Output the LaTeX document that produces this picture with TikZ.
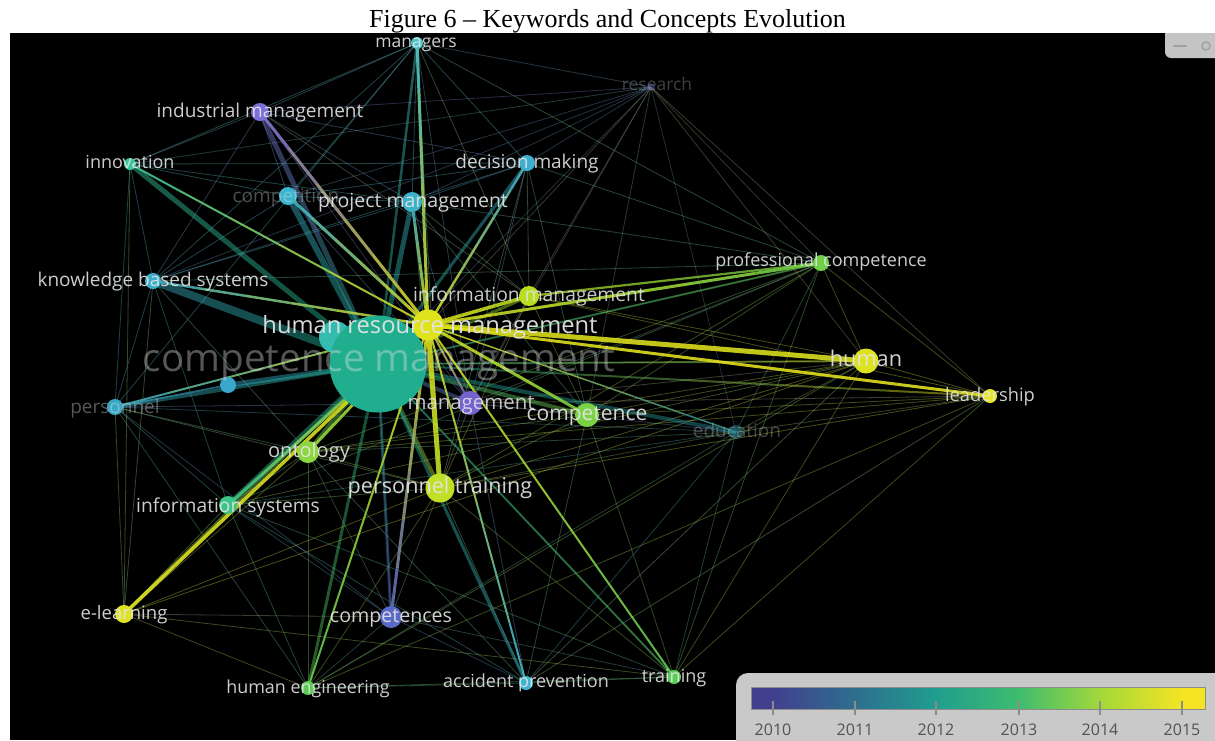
\documentclass[tikz,border=0pt]{standalone}
\usepackage{fontspec}
\setmainfont{Liberation Serif}
\newfontfamily\labfont{Open Sans}
\usetikzlibrary{calc}

% node colours
\definecolor{col-man}{HTML}{48C6CC}
\definecolor{col-res}{HTML}{5A4E96}
\definecolor{col-ind}{HTML}{7E6FD8}
\definecolor{col-inn}{HTML}{38C8A0}
\definecolor{col-dec}{HTML}{3EAFCF}
\definecolor{col-cpt}{HTML}{3AB5CF}
\definecolor{col-prj}{HTML}{3AB2C8}
\definecolor{col-kbs}{HTML}{3AAFC8}
\definecolor{col-pro}{HTML}{70D04A}
\definecolor{col-inf}{HTML}{B8DE22}
\definecolor{col-hrm}{HTML}{E0E21C}
\definecolor{col-cm1}{HTML}{21AE8E}
\definecolor{col-cm2}{HTML}{34BCB0}
\definecolor{col-hum}{HTML}{DCE21E}
\definecolor{col-lea}{HTML}{E8E620}
\definecolor{col-mgt}{HTML}{7462CF}
\definecolor{col-cmp}{HTML}{7AD245}
\definecolor{col-edu}{HTML}{2A8A9A}
\definecolor{col-per}{HTML}{38A8C4}
\definecolor{col-sml}{HTML}{3AA8CC}
\definecolor{col-ont}{HTML}{8CD640}
\definecolor{col-ptr}{HTML}{BFE026}
\definecolor{col-ins}{HTML}{3CC488}
\definecolor{col-elr}{HTML}{DDE222}
\definecolor{col-cps}{HTML}{5A68C8}
\definecolor{col-heg}{HTML}{5CCB55}
\definecolor{col-acc}{HTML}{3AB6D0}
\definecolor{col-tra}{HTML}{5CCC58}
% legend colours
\definecolor{v0}{HTML}{42408E}
\definecolor{v1}{HTML}{2D6F8E}
\definecolor{v2}{HTML}{1F9E8E}
\definecolor{v3}{HTML}{3FBC6E}
\definecolor{v4}{HTML}{A4D83A}
\definecolor{v5}{HTML}{F4E424}
\definecolor{legbg}{HTML}{C9C9C9}
\definecolor{lbc}{HTML}{E4E4E4}

% gradient edge: width, opacity, from, to
\newcommand\gedge[4]{%
  \foreach \k in {0,...,5}{%
    \pgfmathsetmacro\ta{\k/6}%
    \pgfmathsetmacro\tb{(\k+1)/6}%
    \pgfmathtruncatemacro\pc{100-(\k+0.5)*100/6}%
    \draw[line width=#1, draw opacity=#2, draw=col-#3!\pc!col-#4]
      ($(#3)!\ta!(#4)$) -- ($(#3)!\tb!(#4)$);%
  }}
% label: name, position, size, opacity, text
\newcommand\lbl[5]{%
  \node[lab, font=\labfont\fontsize{#3}{#3}\selectfont, text opacity=#4,
        anchor=base, yshift={-0.27*#3pt}] (#1) at (#2) {#5};}

\begin{document}
\begin{tikzpicture}[x=1pt,y=-1pt, line cap=butt,
  lab/.style={text=lbc, inner sep=0pt},
  thinedge/.style={line width=0.8pt, draw opacity=0.4},
  ball/.style={circle, inner sep=0pt, draw=none}]
\useasboundingbox (0,0) rectangle (1215,740);
\fill[white] (0,0) rectangle (1215,740);
\fill[black] (10,33) rectangle (1215,740);
\node[font=\fontsize{26}{30}\selectfont, anchor=base, inner sep=0pt] (title) at (607.5,27) {Figure 6 -- Keywords and Concepts Evolution};

% node positions
\coordinate (man) at (417,43);
\coordinate (res) at (651,87);
\coordinate (ind) at (260,112);
\coordinate (inn) at (130,164);
\coordinate (dec) at (527,163);
\coordinate (cpt) at (288,196);
\coordinate (prj) at (412,202);
\coordinate (kbs) at (153,281);
\coordinate (pro) at (821,263);
\coordinate (inf) at (529,296);
\coordinate (hrm) at (428,325);
\coordinate (cm1) at (378,364);
\coordinate (cm2) at (335,337);
\coordinate (hum) at (866,361);
\coordinate (lea) at (990,396);
\coordinate (mgt) at (470,403);
\coordinate (cmp) at (587,415);
\coordinate (edu) at (736,432);
\coordinate (per) at (115,407);
\coordinate (sml) at (228,385);
\coordinate (ont) at (308,452);
\coordinate (ptr) at (440,488);
\coordinate (ins) at (228,505);
\coordinate (elr) at (124,614);
\coordinate (cps) at (391,617);
\coordinate (heg) at (308,688);
\coordinate (acc) at (526,683);
\coordinate (tra) at (674,677);

% faint background edges
\foreach \a/\b in {res/ind,res/prj,res/dec,res/hrm,res/cm1,res/pro,res/hum,res/edu,res/cmp,res/man,res/lea,res/inf,res/kbs,res/cpt,res/mgt,res/inn,
  man/ind,man/inn,man/kbs,man/cpt,man/prj,man/dec,man/inf,man/pro,man/per,man/ptr,man/mgt,
  pro/hum,pro/lea,pro/cmp,pro/edu,pro/cm1,pro/dec,pro/prj,pro/ptr,pro/tra,pro/ont,pro/ins,pro/mgt,pro/kbs,
  lea/hum,lea/cmp,lea/edu,lea/inf,lea/ptr,lea/tra,lea/acc,lea/mgt,lea/ont,lea/heg,
  hum/cmp,hum/edu,hum/inf,hum/ptr,hum/tra,hum/heg,hum/acc,hum/cm1,hum/ont,hum/ins,hum/mgt,hum/elr,
  edu/ptr,edu/tra,edu/acc,edu/heg,edu/per,edu/mgt,edu/ins,edu/ont,
  tra/cm1,tra/ptr,tra/cmp,tra/acc,tra/heg,tra/elr,tra/ins,tra/cps,
  acc/ptr,acc/heg,acc/cps,acc/cmp,acc/ont,acc/ins,acc/mgt,
  heg/ptr,heg/elr,heg/cps,heg/ins,heg/ont,heg/per,
  cps/cm1,cps/ptr,cps/elr,cps/ins,cps/ont,cps/per,
  elr/ins,elr/ont,elr/per,elr/kbs,elr/ptr,elr/inn,
  ins/ont,ins/per,ins/kbs,ins/ptr,
  per/kbs,per/inn,per/ont,per/ptr,per/mgt,
  kbs/inn,kbs/ind,kbs/cpt,kbs/prj,kbs/ont,kbs/dec,
  inn/ind,inn/cpt,inn/prj,inn/dec,
  ind/cpt,ind/prj,ind/dec,ind/mgt,ind/inf,
  cpt/prj,cpt/dec,cpt/mgt,
  prj/dec,prj/inf,prj/ptr,prj/mgt,prj/cmp,
  dec/inf,dec/mgt,dec/cmp,dec/ptr,
  inf/cmp,inf/mgt,inf/ptr,
  mgt/cmp,mgt/ptr,cmp/ptr,cmp/ont,ont/ptr}
  {\draw[thinedge, draw=col-\a!50!col-\b!70!gray] (\a) -- (\b);}

% competence management bands
\foreach \b/\w in {kbs/8,inn/5,cpt/6,prj/5,ind/5,per/4,sml/5,ins/5,ont/4,elr/3,ptr/4,cps/3,acc/3,heg/3,edu/4,cmp/4,mgt/4,inf/3,dec/3,man/2.5,hum/2,pro/2,lea/2,tra/2}
  {\gedge{\w}{0.45}{cm1}{\b}}

% secondary edges
\gedge{2.2}{0.75}{inf}{pro}
\gedge{1.6}{0.6}{sml}{per}

% human resource management edges
\foreach \b/\w in {hum/5,lea/3,inf/3.5,pro/3,cmp/3,ptr/5,man/3,prj/3,dec/2.5,ind/3,cpt/3,kbs/2.5,inn/2,mgt/2,elr/3.5,ont/3,ins/3,cps/3,heg/2,acc/2,tra/2,per/2,edu/1.5}
  {\gedge{\w}{0.88}{hrm}{\b}}

% nodes
\node[ball, fill=col-res, fill opacity=0.45, minimum size=8pt] (n-res) at (res) {};
\node[ball, fill=col-edu, fill opacity=0.5, minimum size=14pt] (n-edu) at (edu) {};
\foreach \n/\d in {man/12,ind/18,inn/12,dec/16,cpt/18,prj/20,kbs/16,pro/16,inf/20,hum/25,lea/14,mgt/24,cmp/24,per/16,sml/16,ont/22,ptr/29,ins/18,elr/18,cps/22,heg/14,acc/14,tra/14}
  {\node[ball, fill=col-\n, minimum size=\d pt] (n-\n) at (\n) {};}
\node[ball, fill=col-cm2, minimum size=32pt] (n-cm2) at (cm2) {};
\node[ball, fill=col-cm1, minimum size=97pt] (n-cm1) at (cm1) {};
\node[ball, fill=col-hrm, minimum size=31pt] (n-hrm) at (hrm) {};

% faded labels
\lbl{l-cm}{379,361}{38.6}{0.38}{competence management}
\lbl{l-res}{657,86}{17.5}{0.28}{research}
\lbl{l-cpt}{286,197}{19}{0.35}{competition}
\lbl{l-edu}{737,432}{19}{0.3}{education}
\lbl{l-per}{115,408}{19}{0.38}{personnel}

% labels
\lbl{l-man}{416,43}{17.5}{0.9}{managers}
\lbl{l-ind}{260,112}{19}{0.9}{industrial management}
\lbl{l-inn}{130,164}{18}{0.9}{innovation}
\lbl{l-dec}{527,163}{19}{0.9}{decision making}
\lbl{l-prj}{413,202}{19.5}{0.92}{project management}
\lbl{l-kbs}{153,281}{19}{0.9}{knowledge based systems}
\lbl{l-pro}{821,262}{18}{0.9}{professional competence}
\lbl{l-inf}{529,296}{19.3}{0.88}{information management}
\lbl{l-hrm}{430,327}{23.7}{0.95}{human resource management}
\lbl{l-hum}{866,361}{21.7}{0.92}{human}
\lbl{l-lea}{990,397}{18.3}{0.9}{leadership}
\lbl{l-mgt}{471,404}{20.4}{0.85}{management}
\lbl{l-cmp}{587,415}{21}{0.92}{competence}
\lbl{l-ont}{309,452}{20}{0.9}{ontology}
\lbl{l-ptr}{440,488}{21.6}{0.92}{personnel training}
\lbl{l-ins}{228,507}{19.2}{0.9}{information systems}
\lbl{l-elr}{124,614}{18.5}{0.9}{e-learning}
\lbl{l-cps}{391,617}{19.6}{0.92}{competences}
\lbl{l-heg}{308,689}{17.9}{0.9}{human engineering}
\lbl{l-acc}{526,683}{18}{0.9}{accident prevention}
\lbl{l-tra}{674,678}{18}{0.9}{training}

% top-right control box
\begin{scope}
\clip (0,33) rectangle (1215,740);
\fill[legbg!110, rounded corners=6pt] (1165,20) rectangle (1230,58);
\draw[legbg!80!black, line width=2pt, line cap=round] (1174,46) -- (1186,46);
\draw[legbg!80!black, line width=1.5pt] (1206,46) circle (4);
\end{scope}

% legend
\fill[legbg, rounded corners=12pt] (736,673) rectangle (1240,760);
\fill[v0] (751,687) rectangle (773.5,709);
\shade[left color=v0, right color=v1] (773,687) rectangle (855.5,709);
\shade[left color=v1, right color=v2] (855,687) rectangle (936.5,709);
\shade[left color=v2, right color=v3] (936,687) rectangle (1019.5,709);
\shade[left color=v3, right color=v4] (1019,687) rectangle (1100.5,709);
\shade[left color=v4, right color=v5] (1100,687) rectangle (1182.5,709);
\fill[v5] (1182,687) rectangle (1205,709);
\draw[black!45, line width=0.8pt] (751,687) rectangle (1205,709);
\foreach \x/\yr in {773/2010,855/2011,936/2012,1019/2013,1100/2014,1182/2015}{
  \draw[black!45, line width=1.2pt] (\x,701) -- (\x,715);
  \node[font=\labfont\fontsize{16}{16}\selectfont, text=black!68, anchor=base, inner sep=0pt] (y\yr) at (\x,735) {\yr};
}
\end{tikzpicture}
\end{document}
